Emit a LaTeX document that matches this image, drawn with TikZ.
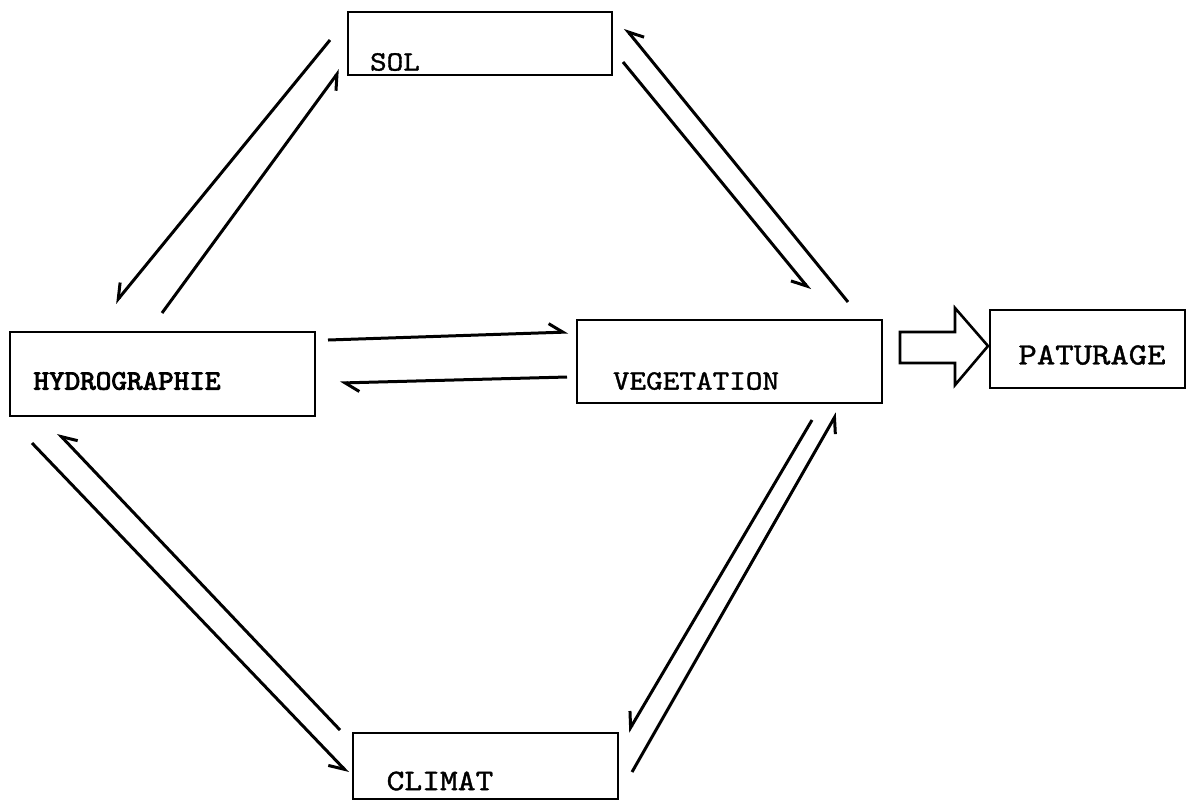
\documentclass[tikz,border=0pt]{standalone}
\usepackage{fontspec}
\newfontfamily\twf{lmmono10-regular.otf}[FakeBold=1.2]
\newfontfamily\twb{lmmono10-regular.otf}[FakeBold=3]
\usetikzlibrary{arrows.meta}
\tikzset{
  box/.style={draw, line width=1.3pt, rectangle, inner sep=0pt},
  lbl/.style={inner sep=0pt},
  hr/.style={line width=1.5pt, -{Straight Barb[right, length=7pt, width=9pt, line width=1.5pt]}},
  hl/.style={line width=1.5pt, -{Straight Barb[left, length=7pt, width=9pt, line width=1.5pt]}},
  block/.style={draw, line width=1.3pt, fill=white, line join=miter}
}
\newcommand{\tw}[2]{\scalebox{1.13}[1]{\fontsize{#1}{#1}\twf #2}}
\begin{document}
\begin{tikzpicture}[x=0.5pt,y=-0.5pt]
\useasboundingbox (0,0) rectangle (1192,800);
% boxes
\node[box, minimum width=132pt, minimum height=31.5pt] (sol) at (480,43.5) {};
\node[lbl] (soltxt) at (395,62) {\tw{14}{SOL}};
\node[box, minimum width=152.5pt, minimum height=42pt] (hydro) at (162.5,374) {};
\node[lbl] (hydrotxt) at (127,381) {\scalebox{1.06}[1]{\fontsize{14}{14}\twb HYDROGRAPHIE}};
\node[box, minimum width=152.5pt, minimum height=41.5pt] (veg) at (729.5,361.5) {};
\node[lbl] (vegtxt) at (696,381) {\tw{14}{VEGETATION}};
\node[box, minimum width=97.5pt, minimum height=39pt] (pat) at (1087.5,349) {};
\node[lbl] (pattxt) at (1092,355) {\tw{15.5}{PATURAGE}};
\node[box, minimum width=132.5pt, minimum height=33pt] (clim) at (485.5,766) {};
\node[lbl] (climtxt) at (440,781) {\tw{15}{CLIMAT}};
% block arrow veg -> paturage
\coordinate (ba0) at (900,332);
\coordinate (batip) at (988,346);
\draw[block] (ba0) -- (955,332) -- (955,308) -- (batip) -- (955,385) -- (955,363) -- (900,363) -- cycle;
% endpoints
\coordinate (a1s) at (330,40);  \coordinate (a1e) at (115,303);
\coordinate (a2s) at (162,313); \coordinate (a2e) at (340,70);
\coordinate (a3s) at (848,302); \coordinate (a3e) at (625,28);
\coordinate (a4s) at (623,62);  \coordinate (a4e) at (810,290);
\coordinate (a5s) at (328,340); \coordinate (a5e) at (568,332);
\coordinate (a6s) at (567,377); \coordinate (a6e) at (340,383);
\coordinate (a7s) at (340,730); \coordinate (a7e) at (58,433);
\coordinate (a8s) at (32,443);  \coordinate (a8e) at (348,773);
\coordinate (a9s) at (812,420); \coordinate (a9e) at (628,732);
\coordinate (a10s) at (632,772); \coordinate (a10e) at (837,413);
% connectors
\draw[hr] (a1s) -- (a1e);
\draw[hr] (a2s) -- (a2e);
\draw[hr] (a3s) -- (a3e);
\draw[hr] (a4s) -- (a4e);
\draw[hl] (a5s) -- (a5e);
\draw[hl] (a6s) -- (a6e);
\draw[hr] (a7s) -- (a7e);
\draw[hr] (a8s) -- (a8e);
\draw[hr] (a9s) -- (a9e);
\draw[hr] (a10s) -- (a10e);
\end{tikzpicture}
\end{document}
